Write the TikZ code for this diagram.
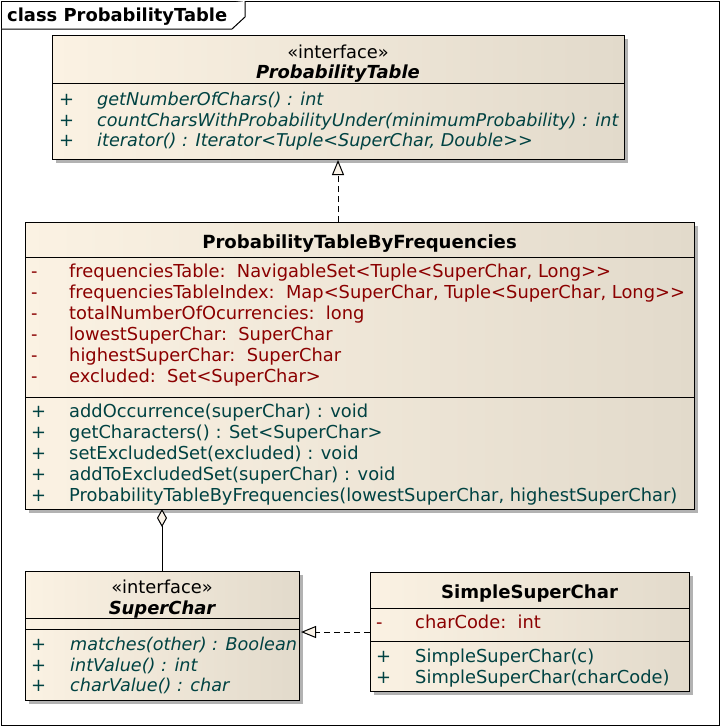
\documentclass[tikz,border=0pt]{standalone}
\usepackage{fontspec}
\setmainfont{DejaVu Sans}[Ligatures=TeXOff]
\usetikzlibrary{arrows.meta,calc}
\definecolor{attrred}{RGB}{139,0,0}
\definecolor{opteal}{RGB}{0,66,66}
\definecolor{fillL}{RGB}{251,242,227}
\definecolor{fillR}{RGB}{226,218,203}
\definecolor{shadowgray}{RGB}{178,178,178}
\definecolor{tipfill}{RGB}{250,243,232}
\tikzset{
  basefont/.style={font=\fontsize{17.85}{21}\selectfont},
  classbox/.style={draw=black,line width=1pt,left color=fillL,right color=fillR,rectangle,anchor=north west,inner sep=0pt,outer sep=0pt},
  sepline/.style={line width=1pt},
  txt/.style={anchor=base west,inner sep=0pt,basefont},
  ctxt/.style={anchor=base,inner sep=0pt,basefont},
  attr/.style={txt,text=attrred},
  op/.style={txt,text=opteal},
  iop/.style={op,font=\fontsize{17.62}{21}\selectfont\itshape},
  boldname/.style={ctxt,font=\fontsize{18.1}{21}\selectfont\bfseries},
  ifname/.style={ctxt,font=\fontsize{17.95}{21}\selectfont\bfseries\itshape},
  realize/.style={line width=1pt,dash pattern=on 6pt off 4pt,-{Triangle[length=15pt,width=12pt,fill=tipfill]}},
  aggr/.style={line width=1pt,{Diamond[length=18pt,width=10pt,fill=tipfill]}-},
  shadowbox/.style={fill=shadowgray}
}
\begin{document}
\begin{tikzpicture}[x=1pt,y=-1pt]
\useasboundingbox (0,0) rectangle (720,726);
% frame
\node[draw=black,line width=1pt,minimum width=718pt,minimum height=724pt,anchor=north west,inner sep=0pt,outer sep=0pt] (frame) at (1,1) {};
\draw[line width=1pt,fill=white] (1,29) -- (232,29) -- (245,17) -- (245,1);
\node[txt,font=\fontsize{17.9}{21}\selectfont\bfseries] (title) at (7,21) {class ProbabilityTable};

% shadows
\fill[shadowbox] (56,39) rectangle (628,163);
\fill[shadowbox] (29,226) rectangle (698,513);
\fill[shadowbox] (29,575) rectangle (303,704);
\fill[shadowbox] (374,576) rectangle (693,695);

% ProbabilityTable interface
\node[classbox,minimum width=572pt,minimum height=124pt] (pt) at (52,35) {};
\draw[sepline] (52,83) -- (624,83);
\node[ctxt] (ptst) at (338,58) {«interface»};
\node[ifname] (ptname) at (338,78.5) {ProbabilityTable};
\node[op] (ptp1) at (59,105.5) {+};
\node[iop] (pto1) at (97,105.5) {getNumberOfChars() : int};
\node[op] (ptp2) at (59,126) {+};
\node[iop] (pto2) at (97,126) {countCharsWithProbabilityUnder(minimumProbability) : int};
\node[op] (ptp3) at (59,146.5) {+};
\node[iop] (pto3) at (97,146.5) {iterator() : Iterator<Tuple<SuperChar, Double>>};

% ProbabilityTableByFrequencies
\node[classbox,minimum width=669pt,minimum height=287pt] (pbf) at (25,222) {};
\draw[sepline] (25,257) -- (694,257);
\draw[sepline] (25,397) -- (694,397);
\node[boldname] (pbfname) at (359.5,248) {ProbabilityTableByFrequencies};
\node[attr] (pbfm1) at (31,277) {-};
\node[attr] (pbfa1) at (69,277) {frequenciesTable:\ \ NavigableSet<Tuple<SuperChar, Long>>};
\node[attr] (pbfm2) at (31,298) {-};
\node[attr] (pbfa2) at (69,298) {frequenciesTableIndex:\ \ Map<SuperChar, Tuple<SuperChar, Long>>};
\node[attr] (pbfm3) at (31,319) {-};
\node[attr] (pbfa3) at (69,319) {totalNumberOfOcurrencies:\ \ long};
\node[attr] (pbfm4) at (31,340) {-};
\node[attr] (pbfa4) at (69,340) {lowestSuperChar:\ \ SuperChar};
\node[attr] (pbfm5) at (31,361) {-};
\node[attr] (pbfa5) at (69,361) {highestSuperChar:\ \ SuperChar};
\node[attr] (pbfm6) at (31,382) {-};
\node[attr] (pbfa6) at (69,382) {excluded:\ \ Set<SuperChar>};
\node[op] (pbfp1) at (31,417) {+};
\node[op] (pbfo1) at (69,417) {addOccurrence(superChar) : void};
\node[op] (pbfp2) at (31,438) {+};
\node[op] (pbfo2) at (69,438) {getCharacters() : Set<SuperChar>};
\node[op] (pbfp3) at (31,459) {+};
\node[op] (pbfo3) at (69,459) {setExcludedSet(excluded) : void};
\node[op] (pbfp4) at (31,480) {+};
\node[op] (pbfo4) at (69,480) {addToExcludedSet(superChar) : void};
\node[op] (pbfp5) at (31,501) {+};
\node[op] (pbfo5) at (69,501) {ProbabilityTableByFrequencies(lowestSuperChar, highestSuperChar)};

% SuperChar interface
\node[classbox,minimum width=274pt,minimum height=129pt] (sc) at (25,571) {};
\draw[sepline] (25,618) -- (299,618);
\draw[sepline] (25,629) -- (299,629);
\node[ctxt] (scst) at (162,593) {«interface»};
\node[ifname] (scname) at (162,614) {SuperChar};
\node[op] (scp1) at (31,650) {+};
\node[iop] (sco1) at (70,650) {matches(other) : Boolean};
\node[op] (scp2) at (31,671) {+};
\node[iop] (sco2) at (70,671) {intValue() : int};
\node[op] (scp3) at (31,691.5) {+};
\node[iop] (sco3) at (70,691.5) {charValue() : char};

% SimpleSuperChar
\node[classbox,minimum width=319pt,minimum height=119pt] (ssc) at (370,572) {};
\draw[sepline] (370,608) -- (689,608);
\draw[sepline] (370,641) -- (689,641);
\node[boldname] (sscname) at (529.5,598) {SimpleSuperChar};
\node[attr] (sscm1) at (376,628.5) {-};
\node[attr] (ssca1) at (415,628.5) {charCode:\ \ int};
\node[op] (sscp1) at (376,662.5) {+};
\node[op] (ssco1) at (415,662.5) {SimpleSuperChar(c)};
\node[op] (sscp2) at (376,683.5) {+};
\node[op] (ssco2) at (415,683.5) {SimpleSuperChar(charCode)};

% connectors
\coordinate (rlev) at (0,632);
\draw[realize] (pbf.north -| pt.south) -- ($(pt.south)+(0,1)$);
\draw[aggr] (pbf.south -| sc.north) -- (sc.north);
\draw[realize] (ssc.west |- rlev) -- ($(sc.east |- rlev)+(2,0)$);
\end{tikzpicture}
\end{document}
